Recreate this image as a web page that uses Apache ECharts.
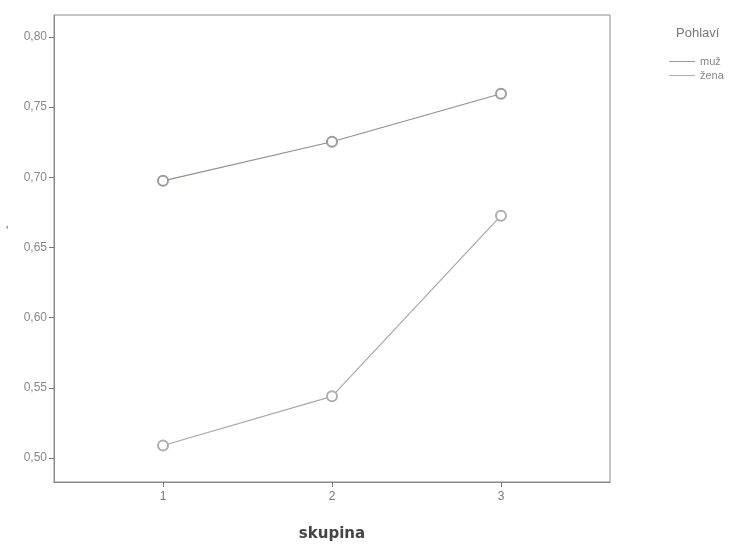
<!DOCTYPE html>
<html><head><meta charset="utf-8">
<script src="https://cdn.jsdelivr.net/npm/echarts@6/dist/echarts.min.js"></script>
<style>html,body{margin:0;padding:0;background:#fff}#c{width:749px;height:547px}</style>
</head><body><div id="c"></div>
<script>
const groups = [1, 2, 3];
const muz = [0.6975, 0.7253, 0.7595];
const zena = [0.509, 0.544, 0.6727];
const yTicks = [0.50, 0.55, 0.60, 0.65, 0.70, 0.75, 0.80];
const seriesNames = ['muž', 'žena'];

const chart = echarts.init(document.getElementById('c'));
const fmt = v => v.toFixed(2).replace('.', ',');
chart.setOption({
  animation: false,
  backgroundColor: '#ffffff',
  title: { text: 'Pohlaví', left: 671, top: 22, textStyle: { fontSize: 13, fontWeight: 'normal', color: '#777', fontFamily: 'Liberation Sans' } },
  legend: {
    orient: 'vertical', left: 664, top: 51, itemWidth: 26, itemHeight: 8, itemGap: 3,
    icon: 'path://M0,4 L24,4 L24,5 L0,5 Z',
    textStyle: { fontSize: 11, color: '#888', fontFamily: 'Liberation Sans' },
    data: seriesNames
  },
  grid: { left: 54, top: 15, right: 139, bottom: 64, show: true, borderColor: '#8a8a8a', borderWidth: 1, backgroundColor: '#ffffff' },
  xAxis: {
    type: 'value', min: 0.355, max: 3.645,
    name: 'skupina', nameLocation: 'middle', nameGap: 45,
    nameTextStyle: { fontSize: 15, fontWeight: 'bold', color: '#444', fontFamily: 'DejaVu Sans' },
    axisLine: { lineStyle: { color: '#8a8a8a' } },
    axisTick: { customValues: groups, length: 5, lineStyle: { color: '#777' } },
    axisLabel: { customValues: groups, color: '#777', fontSize: 12, margin: 9, fontFamily: 'Liberation Sans' },
    splitLine: { show: false }
  },
  yAxis: {
    type: 'value', min: 0.483, max: 0.8156,
    axisLine: { show: true, lineStyle: { color: '#8a8a8a' } },
    axisTick: { show: true, customValues: yTicks, length: 5, lineStyle: { color: '#777' } },
    axisLabel: { customValues: yTicks, formatter: fmt, color: '#888', fontSize: 12, margin: 7, fontFamily: 'Liberation Sans' },
    splitLine: { show: false }
  },
  graphic: [{ type: 'text', left: 6, top: 226, style: { text: "'", fontSize: 12, fill: '#666' } }],
  series: [
    { name: seriesNames[0], type: 'line', data: groups.map((g, i) => [g, muz[i]]),
      symbol: 'emptyCircle', symbolSize: 10, lineStyle: { color: '#8e8e9c', width: 1.2 },
      itemStyle: { color: '#9a9aa8', borderWidth: 1 } },
    { name: seriesNames[1], type: 'line', data: groups.map((g, i) => [g, zena[i]]),
      symbol: 'emptyCircle', symbolSize: 10, lineStyle: { color: '#a6a6ae', width: 1.2 },
      itemStyle: { color: '#adadb5', borderWidth: 1 } }
  ]
});
</script></body></html>
